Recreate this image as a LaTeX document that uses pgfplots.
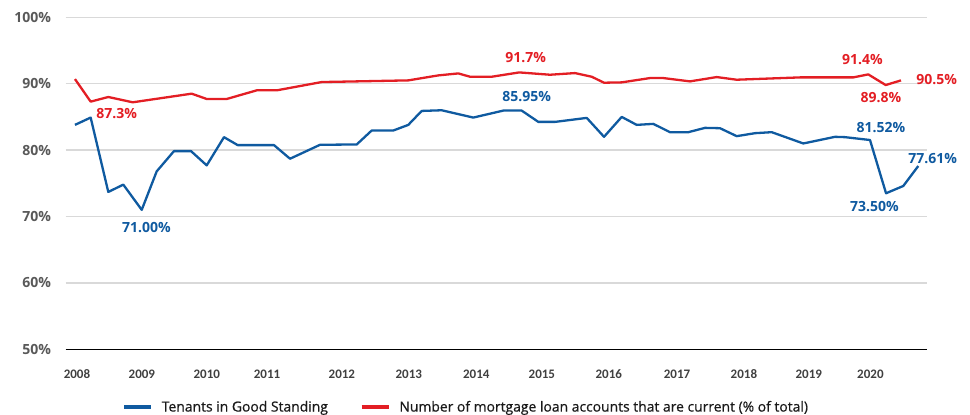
\documentclass[border=0pt]{standalone}
\usepackage{fontspec}
\setmainfont{Open Sans}
\newfontfamily\carlito{Carlito}
\newfontfamily\legfont[FakeBold=0.6]{Open Sans}
\usepackage{pgfplots}
\pgfplotsset{compat=1.18}
\definecolor{cblue}{HTML}{0F5AA0}
\definecolor{cred}{HTML}{E31E24}
\definecolor{lgray}{HTML}{595959}
\definecolor{gridc}{HTML}{D9D9D9}
\begin{document}
\begin{tikzpicture}
\path[use as bounding box] (0pt,0pt) rectangle (970pt,-415pt);
\begin{axis}[
  at={(65.7pt,-349.3pt)}, anchor=south west,
  scale only axis, width=861pt, height=332pt,
  xmin=2008, xmax=2021, ymin=50, ymax=100,
  clip=false,
  axis x line*=bottom, axis y line*=left,
  x axis line style={black, line width=1.3pt, -},
  y axis line style={draw=none},
  ytick={50,60,70,80,90,100},
  yticklabels={50\%,60\%,70\%,80\%,90\%,100\%},
  ymajorgrids, grid style={gridc, line width=1.3pt},
  ytick style={draw=none},
  yticklabel style={font=\fontsize{14}{16}\selectfont\bfseries, text=lgray, inner sep=0pt, anchor=east, xshift=-14.5pt},
  xtick={2008.17,2009.15,2010.13,2011.04,2012.17,2013.18,2014.20,2015.19,2016.20,2017.23,2018.24,2019.22,2020.15},
  xticklabels={2008,2009,2010,2011,2012,2013,2014,2015,2016,2017,2018,2019,2020},
  xtick style={draw=none},
  xticklabel style={font=\carlito\fontsize{13}{15}\selectfont\bfseries, text=black!75, inner sep=0pt, anchor=north, yshift=-20pt},
  extra x ticks={2009,2010,2011,2012,2013,2014,2015,2016,2017,2018,2019,2020,2021},
  extra x tick labels={},
  extra x tick style={grid=none, tick align=outside, major tick length=7pt, tick style={black, line width=1.5pt, draw=black}},
  legend columns=2,
  legend style={draw=none, fill=none, inner sep=0pt, at={(0.0655,-0.1738)}, anchor=west,
    font=\legfont\fontsize{13.9}{16}\selectfont, text=black!90,
    nodes={inner sep=0pt},
    /tikz/every odd column/.append style={column sep=9pt},
    /tikz/every even column/.append style={column sep=32pt}},
  legend image code/.code={\draw[#1, line width=3.5pt] (0pt,0pt) -- (27pt,0pt);},
]
\addplot[cblue, line width=2.3pt, line join=round] coordinates {
(2008.140,83.8) (2008.377,84.9) (2008.643,73.7) (2008.870,74.8) (2009.148,71.0) (2009.374,76.8) (2009.635,79.85) (2009.892,79.85) (2010.129,77.7) (2010.390,81.95) (2010.597,80.75) (2011.145,80.75) (2011.387,78.7) (2011.840,80.8) (2012.394,80.85) (2012.620,82.95) (2012.946,82.95) (2013.173,83.8) (2013.375,85.9) (2013.677,86.0) (2014.154,84.9) (2014.607,85.95) (2014.885,85.95) (2015.136,84.25) (2015.388,84.25) (2015.867,84.85) (2016.128,82.0) (2016.395,85.0) (2016.621,83.8) (2016.872,83.95) (2017.124,82.7) (2017.401,82.7) (2017.653,83.35) (2017.879,83.3) (2018.131,82.1) (2018.408,82.55) (2018.660,82.7) (2019.137,81.0) (2019.616,82.0) (2019.767,81.95) (2020.144,81.52) (2020.386,73.5) (2020.647,74.6) (2020.873,77.61)
};
\addlegendentry{Tenants in Good Standing}
\addplot[cred, line width=2.3pt, line join=round] coordinates {
(2008.140,90.7) (2008.377,87.3) (2008.643,88.0) (2009.012,87.2) (2009.902,88.5) (2010.129,87.7) (2010.431,87.7) (2010.884,89.0) (2011.186,89.0) (2011.865,90.25) (2012.394,90.35) (2013.173,90.5) (2013.626,91.25) (2013.928,91.55) (2014.105,91.05) (2014.432,91.05) (2014.849,91.7) (2015.312,91.35) (2015.690,91.6) (2015.942,91.05) (2016.128,90.15) (2016.395,90.2) (2016.822,90.85) (2017.023,90.85) (2017.426,90.35) (2017.829,91.0) (2018.131,90.6) (2019.087,90.95) (2019.892,90.95) (2020.118,91.4) (2020.381,89.8) (2020.612,90.5)
};
\addlegendentry{Number of mortgage loan accounts that are current (\% of total)}
\begin{scope}[every node/.style={font=\fontsize{14}{16}\selectfont\bfseries, inner sep=0pt}]
\node[text=cred] at (axis cs:2008.77,85.54) {87.3\%};
\node[text=cblue] at (axis cs:2009.22,68.31) {71.00\%};
\node[text=cred] at (axis cs:2014.945,93.92) {91.7\%};
\node[text=cblue] at (axis cs:2014.96,88.04) {85.95\%};
\node[text=cred] at (axis cs:2020.03,93.67) {91.4\%};
\node[text=cred] at (axis cs:2020.31,87.95) {89.8\%};
\node[text=cred] at (axis cs:2021.15,90.66) {90.5\%};
\node[text=cblue] at (axis cs:2020.31,83.37) {81.52\%};
\node[text=cblue] at (axis cs:2020.21,71.48) {73.50\%};
\node[text=cblue] at (axis cs:2021.09,78.77) {77.61\%};
\end{scope}
\end{axis}
\end{tikzpicture}
\end{document}
